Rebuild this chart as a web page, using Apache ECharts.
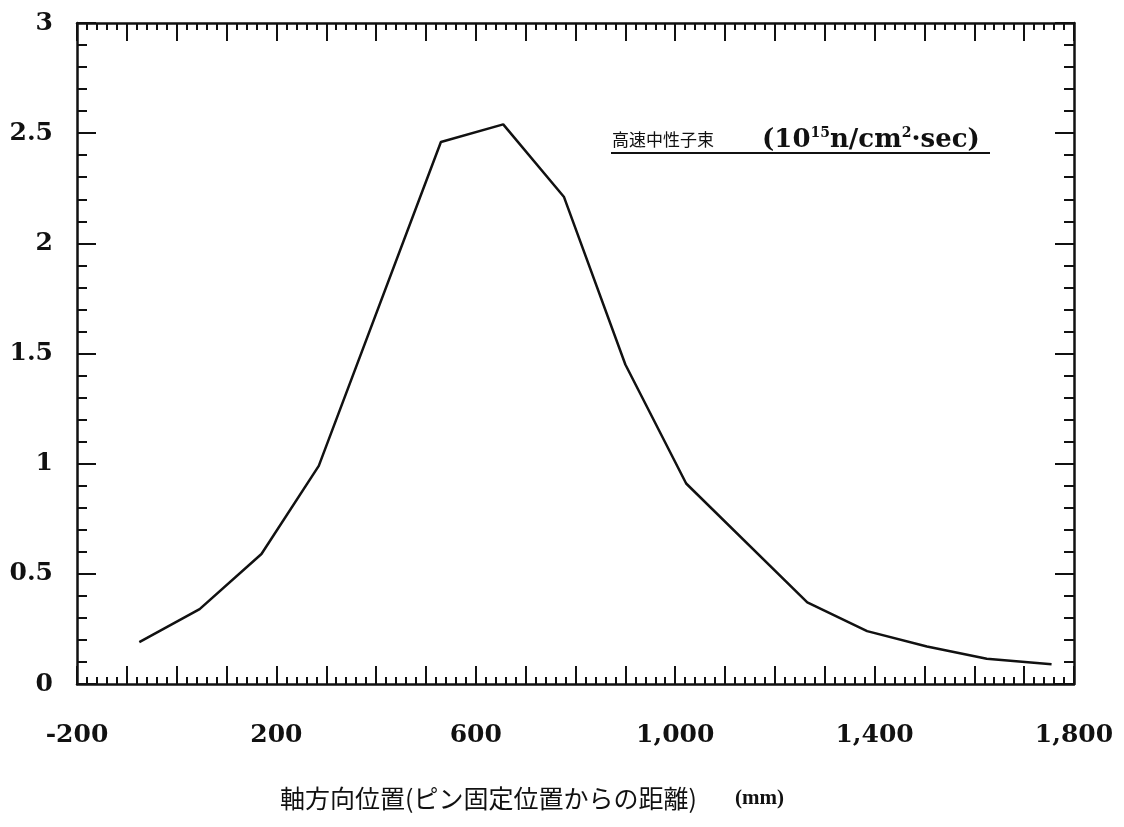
<!DOCTYPE html>
<html>
<head>
<meta charset="utf-8">
<script src="https://cdn.jsdelivr.net/npm/echarts@6/dist/echarts.min.js"></script>
<style>
html,body{margin:0;padding:0;background:#fff;}
#c{width:1124px;height:827px;}
</style>
</head>
<body>
<div id="c"></div>
<script>
// Axial position (mm) and fast neutron flux (10^15 n/cm2.sec)
const positions = [-75, 46, 170, 285, 530, 655, 777, 900, 1022, 1265, 1385, 1505, 1625, 1755];
const flux      = [0.19, 0.34, 0.59, 0.99, 2.46, 2.54, 2.21, 1.45, 0.91, 0.37, 0.24, 0.17, 0.115, 0.09];
const xLabelValues = [-200, 200, 600, 1000, 1400, 1800];
const yLabelValues = [0, 0.5, 1, 1.5, 2, 2.5, 3];
const xTitleMain = '軸方向位置(ピン固定位置からの距離)';
const xTitleUnit = '(mm)';
const seriesName = '高速中性子束';

const serif = '"DejaVu Serif", "Liberation Serif", serif';
const serif2 = '"Liberation Serif", "DejaVu Serif", serif';
const cjk = '"Noto Sans CJK JP", sans-serif';
const ink = '#111';

const chart = echarts.init(document.getElementById('c'));

function xFmt(v) {
  return xLabelValues.indexOf(v) >= 0 ? v.toLocaleString('en-US') : '';
}
function yFmt(v) {
  const r = Math.round(v * 10) / 10;
  return yLabelValues.indexOf(r) >= 0 ? String(r) : '';
}

const baseX = {
  type: 'value', min: -200, max: 1800, interval: 100,
  axisLine: { show: true, onZero: false, lineStyle: { color: ink, width: 2.5 } },
  axisTick: { show: true, inside: true, length: 18, lineStyle: { color: ink, width: 2 } },
  minorTick: { show: true, splitNumber: 5, length: 7, lineStyle: { color: ink, width: 2 } },
  splitLine: { show: false }, minorSplitLine: { show: false }
};
const baseY = {
  type: 'value', min: 0, max: 3, interval: 0.5,
  axisLine: { show: true, onZero: false, lineStyle: { color: ink, width: 2.5 } },
  axisTick: { show: true, inside: true, length: 19, lineStyle: { color: ink, width: 2 } },
  minorTick: { show: true, splitNumber: 5, length: 10, lineStyle: { color: ink, width: 2 } },
  splitLine: { show: false }, minorSplitLine: { show: false }
};

chart.setOption({
  animation: false,
  backgroundColor: '#fff',
  grid: { left: 77, right: 50, top: 23, bottom: 143, containLabel: false },
  xAxis: [
    Object.assign({}, baseX, {
      position: 'bottom',
      axisLabel: { show: true, margin: 39, formatter: xFmt, color: ink, fontFamily: serif, fontWeight: 'bold', fontSize: 25, showMinLabel: true, showMaxLabel: true }
    }),
    Object.assign({}, baseX, { position: 'top', axisLabel: { show: false } })
  ],
  yAxis: [
    Object.assign({}, baseY, {
      position: 'left',
      axisLabel: { show: true, margin: 24, formatter: yFmt, color: ink, fontFamily: serif, fontWeight: 'bold', fontSize: 25 }
    }),
    Object.assign({}, baseY, { position: 'right', axisLabel: { show: false } })
  ],
  series: [{
    name: seriesName,
    type: 'line',
    xAxisIndex: 0, yAxisIndex: 0,
    data: positions.map((p, i) => [p, flux[i]]),
    showSymbol: false, symbol: 'none', smooth: false,
    lineStyle: { color: ink, width: 2.5 }
  }],
  graphic: [
    {
      type: 'text', left: 280, top: 786,
      style: {
        text: '{t|' + xTitleMain + '}{g|}{m|' + xTitleUnit + '}',
        fill: ink,
        rich: {
          t: { fontFamily: cjk, fontSize: 25, lineHeight: 28 },
          g: { width: 38 },
          m: { fontFamily: serif2, fontWeight: 'bold', fontSize: 21, lineHeight: 28 }
        }
      }
    },
    {
      type: 'text', left: 612, top: 126,
      style: {
        text: '{c|' + seriesName + '}{g|}{b|(10}{sup|15}{b|n/cm}{sup|2}{b|·sec)}',
        fill: ink,
        rich: {
          c: { fontFamily: cjk, fontSize: 17, lineHeight: 28 },
          g: { width: 48 },
          b: { fontFamily: serif, fontWeight: 'bold', fontSize: 26, lineHeight: 28 },
          sup: { fontFamily: serif, fontWeight: 'bold', fontSize: 14, lineHeight: 14, verticalAlign: 'top' }
        }
      }
    },
    {
      type: 'line', shape: { x1: 611, y1: 153, x2: 990, y2: 153 },
      style: { stroke: ink, lineWidth: 2 }
    }
  ]
});
</script>
</body>
</html>
